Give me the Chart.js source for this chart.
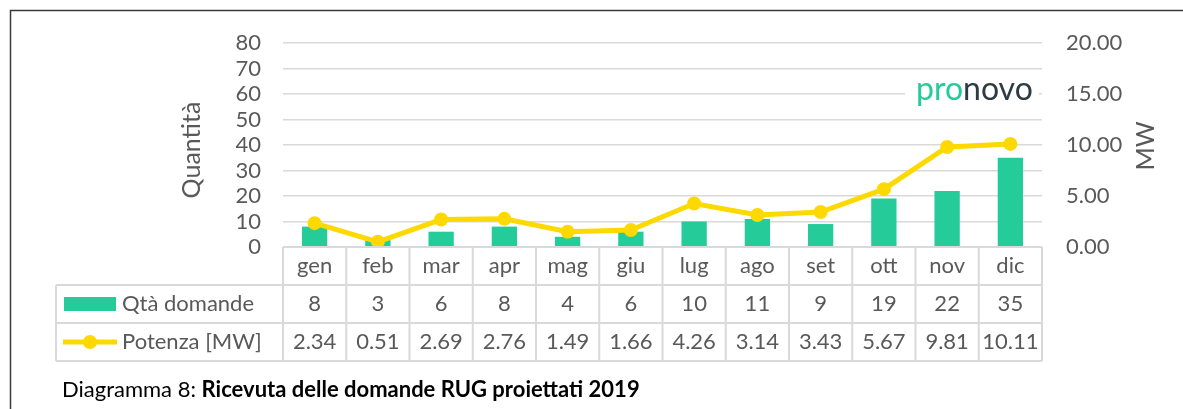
<!DOCTYPE html>
<html>
<head>
<meta charset="utf-8">
<script src="https://cdn.jsdelivr.net/npm/chart.js@4/dist/chart.umd.min.js"></script>
<style>
  html, body { margin: 0; padding: 0; background: #fff; }
  #wrap { width: 1183px; height: 409px; position: relative; }
</style>
</head>
<body>
<div id="wrap"><canvas id="chart" width="1183" height="409"></canvas></div>
<script>
// data
var months = ['gen', 'feb', 'mar', 'apr', 'mag', 'giu', 'lug', 'ago', 'set', 'ott', 'nov', 'dic'];
var domande = [8, 3, 6, 8, 4, 6, 10, 11, 9, 19, 22, 35];
var potenza = [2.34, 0.51, 2.69, 2.76, 1.49, 1.66, 4.26, 3.14, 3.43, 5.67, 9.81, 10.11];
var seriesNames = ['Qtà domande', 'Potenza [MW]'];

var GREEN = '#25CC9A';
var YELLOW = '#FDD900';
var GRID = '#d9d9d9';
var TEXT = '#595959';
var FONT = 'Lato, "Noto Sans", sans-serif';

document.addEventListener("DOMContentLoaded", function () {
    var ctx = document.getElementById('chart').getContext('2d');

    // frame, axis titles, logo, data table and caption
    var extras = {
        id: 'extras',
        beforeDraw: function (chart) {
            var c = chart.ctx;
            c.save();
            c.fillStyle = '#fff';
            c.fillRect(0, 0, chart.width, chart.height);
            c.restore();
        },
        afterDraw: function (chart) {
            var c = chart.ctx;
            var x = chart.scales.x;
            var area = chart.chartArea;
            var colW = (area.right - area.left) / months.length;
            var rows = [area.bottom, area.bottom + 38, area.bottom + 76, area.bottom + 114];
            var tableLeft = 56;

            c.save();

            // frame
            c.strokeStyle = '#3a3a3a';
            c.lineWidth = 1.5;
            c.beginPath();
            c.moveTo(10.5, chart.height);
            c.lineTo(10.5, 10.5);
            c.lineTo(chart.width, 10.5);
            c.stroke();

            // table lines
            c.strokeStyle = GRID;
            c.lineWidth = 2;
            c.beginPath();
            c.moveTo(area.left, rows[0]); c.lineTo(area.right, rows[0]);
            for (var r = 1; r < rows.length; r++) {
                c.moveTo(tableLeft, rows[r]); c.lineTo(area.right, rows[r]);
            }
            c.moveTo(tableLeft, rows[1]); c.lineTo(tableLeft, rows[3]);
            for (var k = 0; k <= months.length; k++) {
                var lx = area.left + k * colW;
                c.moveTo(lx, rows[0]); c.lineTo(lx, rows[3]);
            }
            c.stroke();

            // table text
            c.fillStyle = TEXT;
            c.font = '22px ' + FONT;
            c.textAlign = 'center';
            c.textBaseline = 'middle';
            months.forEach(function (m, i) {
                var cx = x.getPixelForValue(i);
                c.fillText(m, cx, (rows[0] + rows[1]) / 2);
                c.fillText(String(domande[i]), cx, (rows[1] + rows[2]) / 2);
                c.fillText(potenza[i].toFixed(2), cx, (rows[2] + rows[3]) / 2);
            });

            // legend cells
            var y1 = (rows[1] + rows[2]) / 2;
            var y2 = (rows[2] + rows[3]) / 2;
            c.fillStyle = GREEN;
            c.fillRect(64, y1 - 7, 52, 14);
            c.strokeStyle = YELLOW;
            c.lineWidth = 5;
            c.beginPath();
            c.moveTo(63, y2); c.lineTo(117, y2);
            c.stroke();
            c.fillStyle = YELLOW;
            c.beginPath();
            c.arc(90, y2, 7, 0, Math.PI * 2);
            c.fill();
            c.fillStyle = TEXT;
            c.textAlign = 'left';
            c.fillText(seriesNames[0], 122, y1);
            c.fillText(seriesNames[1], 122, y2);

            // axis titles
            c.font = '25px ' + FONT;
            c.textAlign = 'center';
            c.save();
            c.translate(192, 150);
            c.rotate(-Math.PI / 2);
            c.fillText('Quantità', 0, 0);
            c.restore();
            c.save();
            c.translate(1146, 146);
            c.rotate(-Math.PI / 2);
            c.fillText('MW', 0, 0);
            c.restore();

            // caption
            c.fillStyle = '#000';
            c.textAlign = 'left';
            c.textBaseline = 'alphabetic';
            c.font = '22px ' + FONT;
            var lead = 'Diagramma 8: ';
            c.fillText(lead, 62, 397);
            var w = c.measureText(lead).width;
            c.font = 'bold 22px ' + FONT;
            c.fillText('Ricevuta delle domande RUG proiettati 2019', 62 + w, 397);

            c.restore();
        },
        beforeDatasetsDraw: function (chart) {
            // logo with white backing over the gridlines
            var c = chart.ctx;
            c.save();
            c.fillStyle = '#fff';
            c.fillRect(905, 74, 134, 34);
            c.font = '32px ' + FONT;
            c.textBaseline = 'middle';
            c.textAlign = 'left';
            c.fillStyle = GREEN;
            c.fillText('pro', 916, 90);
            var pw = c.measureText('pro').width;
            c.fillStyle = '#2e3b42';
            c.fillText('novo', 916 + pw, 90);
            c.restore();
        }
    };

    new Chart(ctx, {
        type: 'bar',
        data: {
            labels: months,
            datasets: [{
                type: 'line',
                label: seriesNames[1],
                data: potenza,
                yAxisID: 'y1',
                borderColor: YELLOW,
                backgroundColor: YELLOW,
                borderWidth: 5,
                pointRadius: 7,
                pointBackgroundColor: YELLOW,
                pointBorderWidth: 0,
                tension: 0,
                order: 0
            }, {
                type: 'bar',
                label: seriesNames[0],
                data: domande,
                yAxisID: 'y',
                backgroundColor: GREEN,
                barPercentage: 0.4,
                categoryPercentage: 1,
                order: 1
            }]
        },
        options: {
            responsive: false,
            animation: false,
            maintainAspectRatio: false,
            layout: { padding: { top: 43, bottom: 162, left: 0, right: 0 } },
            plugins: {
                legend: { display: false },
                tooltip: { enabled: false }
            },
            scales: {
                x: {
                    display: false
                },
                y: {
                    position: 'left',
                    min: 0,
                    max: 80,
                    afterFit: function (s) { s.width = 283; },
                    ticks: {
                        stepSize: 10,
                        autoSkip: false,
                        padding: 22,
                        color: TEXT,
                        font: { family: FONT, size: 22 }
                    },
                    grid: { color: GRID, lineWidth: 1.5, drawTicks: false },
                    border: { display: false }
                },
                y1: {
                    position: 'right',
                    min: 0,
                    max: 20,
                    afterFit: function (s) { s.width = 141; },
                    ticks: {
                        stepSize: 5,
                        autoSkip: false,
                        padding: 24,
                        color: TEXT,
                        font: { family: FONT, size: 22 },
                        callback: function (v) { return v.toFixed(2); }
                    },
                    grid: { display: false, drawTicks: false },
                    border: { display: false }
                }
            }
        },
        plugins: [extras]
    });
});
</script>
</body>
</html>
